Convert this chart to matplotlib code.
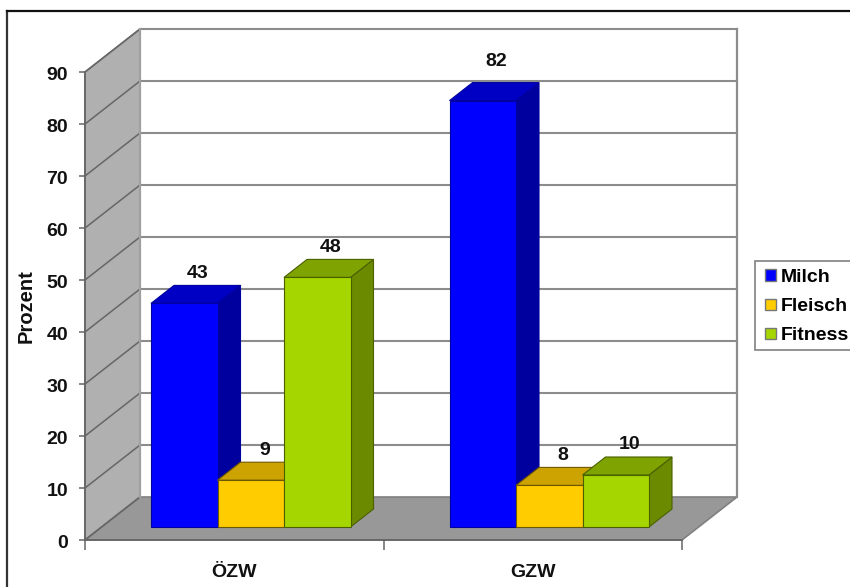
import numpy as np
import matplotlib
matplotlib.use('Agg')
import matplotlib.pyplot as plt
from matplotlib.patches import Polygon, Rectangle
from matplotlib.lines import Line2D
from matplotlib.transforms import ScaledTranslation

plt.rcParams['font.family'] = ['Liberation Sans', 'DejaVu Sans']
plt.rcParams['font.weight'] = 'bold'
plt.rcParams['axes.labelweight'] = 'bold'

categories = ['ÖZW', 'GZW']
series = ['Milch', 'Fleisch', 'Fitness']
milch = [43, 82]
fleisch = [9, 8]
fitness = [48, 10]
yticks = [0, 10, 20, 30, 40, 50, 60, 70, 80, 90]

# front, top, side
colors = {
    'Milch': ('#0000ff', '#0000c4', '#00009e'),
    'Fleisch': ('#ffcc00', '#cca300', '#a88600'),
    'Fitness': ('#a6d600', '#7fa300', '#6b8a00'),
}
edges = {'Milch': '#00009e', 'Fleisch': '#6e5800', 'Fitness': '#4a6000'}

W, H = 850, 587
fig = plt.figure(figsize=(W / 100, H / 100), dpi=100, facecolor='white')

# front plane of the 3d box, in pixels
left, right, top, bottom = 85, 682, 72, 540
ax = fig.add_axes([left / W, 1 - bottom / H, (right - left) / W, (bottom - top) / H])
ax.set_xlim(0, 2)
ax.set_ylim(0, 90)
ax.patch.set_visible(False)
for s in ax.spines.values():
    s.set_visible(False)

px_x = (right - left) / 2
px_y = (bottom - top) / 90

# depth of the box in data units
depth_x = 55 / px_x
depth_y = 43 / px_y
grid_c = '#808080'


def poly(pts, fc, ec=None, lw=1.0, z=1):
    ax.add_patch(Polygon(pts, closed=True, facecolor=fc, edgecolor=ec if ec else fc,
                         linewidth=lw, clip_on=False, zorder=z))


# side wall and floor
poly([(0, 0), (depth_x, depth_y), (depth_x, 90 + depth_y), (0, 90)], '#b0b0b0', grid_c, 1.2)
poly([(0, 0), (depth_x, depth_y), (2 + depth_x, depth_y), (2, 0)], '#989898', grid_c, 1.2)

# gridlines on wall
for v in yticks:
    ax.plot([0, depth_x], [v, v + depth_y], color='#666666', lw=1.1, clip_on=False, zorder=2)
    if v > 0:
        ax.plot([depth_x, 2 + depth_x], [v + depth_y, v + depth_y], color='#8c8c8c', lw=1.5,
                clip_on=False, zorder=2)
ax.plot([depth_x, depth_x], [depth_y, 90 + depth_y], color='#a0a0a0', lw=1.6, clip_on=False, zorder=2)
ax.plot([2 + depth_x, 2 + depth_x], [depth_y, 90 + depth_y], color='#8c8c8c', lw=1.6, clip_on=False, zorder=2)

# bars
bar_w = 66.5 / px_x
bar_dx = 23 / px_x
bar_dy = 18 / px_y
x0 = 66 / px_x
y0 = 13 / px_y
values = [milch, fleisch, fitness]

z = 5
for c in range(len(categories)):
    for i, name in enumerate(series):
        x = c + x0 + i * bar_w
        val = values[i][c]
        f, t, sd = colors[name]
        e = edges[name]
        top_y = y0 + val
        poly([(x + bar_w, y0), (x + bar_w + bar_dx, y0 + bar_dy),
              (x + bar_w + bar_dx, top_y + bar_dy), (x + bar_w, top_y)], sd, e, 0.8, z)
        poly([(x, top_y), (x + bar_dx, top_y + bar_dy),
              (x + bar_w + bar_dx, top_y + bar_dy), (x + bar_w, top_y)], t, e, 0.8, z)
        poly([(x, y0), (x + bar_w, y0), (x + bar_w, top_y), (x, top_y)], f, e, 0.8, z)
        # the 82 label sits a bit higher than the rest
        lift = 7.6 if val == 82 else 5.8
        ax.text(x + bar_w / 2 + bar_dx / 2 + 2 / px_x, top_y + lift, str(val), ha='center', va='center',
                fontsize=14, color='#111111', zorder=10, clip_on=False)
        z += 1

# axes ticks and labels
ax.set_yticks(yticks)
ax.set_yticklabels([str(v) for v in yticks], fontsize=14, color='#111111')
ax.set_xticks([0, 1, 2])
ax.set_xticklabels([])
ax.set_xticks([0.5, 1.5], minor=True)
ax.set_xticklabels(categories, minor=True, fontsize=14, color='#111111')
ax.tick_params(axis='y', length=4.3, width=1.1, color='#666666', pad=8)
ax.tick_params(axis='x', which='major', length=7, width=1.1, color='#666666')
ax.tick_params(axis='x', which='minor', length=0, pad=17.5)
nudge = ScaledTranslation(0, -1 / 100, fig.dpi_scale_trans)
for lab in ax.get_yticklabels():
    lab.set_transform(lab.get_transform() + nudge)
ax.plot([0, 0], [0, 90], color='#666666', lw=1.3, clip_on=False, zorder=3)
ax.plot([0, 2], [0, 0], color='#666666', lw=1.3, clip_on=False, zorder=3)
ax.set_ylabel('Prozent', fontsize=14.5, color='#111111', labelpad=8)

# outer frame, only top and left show in the crop
fig.add_artist(Line2D([7 / W, 7 / W], [0, 1 - 11 / H], color='#333333', lw=1.6))
fig.add_artist(Line2D([7 / W, 1], [1 - 11 / H, 1 - 11 / H], color='#111111', lw=1.6))

# legend
fig.add_artist(Rectangle((755 / W, 1 - 350 / H), 100 / W, 89 / H, transform=fig.transFigure,
                         facecolor='white', edgecolor='#808080', linewidth=1.2))
handles = [Rectangle((0, 0), 1, 1, facecolor=colors[n][0], edgecolor='#777777', linewidth=1) for n in series]
fig.legend(handles, series, loc='upper left', bbox_to_anchor=(765 / W, 1 - 269 / H), frameon=False,
           handlelength=0.55, handleheight=0.55, handletextpad=0.25,
           labelspacing=0.63, borderpad=0, borderaxespad=0, prop={'size': 14, 'weight': 'bold'})

fig.savefig('out.png', dpi=100)
